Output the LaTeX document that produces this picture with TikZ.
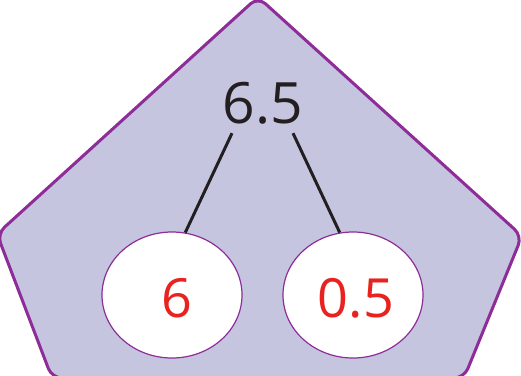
\documentclass[tikz,border=0pt]{standalone}
\usepackage{fontspec}
\setmainfont{Open Sans}
\usetikzlibrary{shapes.geometric}

\definecolor{lavender}{HTML}{C5C5E0}
\definecolor{plum}{HTML}{8E2C98}
\definecolor{numred}{HTML}{E8231F}
\definecolor{ink}{HTML}{231F20}

\begin{document}
\begin{tikzpicture}[x=1pt, y=-1pt,
    part/.style={draw=plum, line width=1.2pt, fill=white, ellipse, minimum width=140pt, minimum height=126pt, inner sep=0pt, text=numred, font=\fontsize{54}{60}\selectfont},
    whole/.style={minimum height=60pt, inner sep=0pt, text=ink, font=\fontsize{57}{62}\selectfont},
    bond/.style={draw=ink, line width=3pt}]
  \useasboundingbox (0,0) rectangle (521,375);
  % pentagon
  \draw[draw=plum, fill=lavender, line width=3pt, rounded corners=10pt, line join=round]
    (258,-3) -- (522,236) -- (464,378) -- (52,378) -- (-3,234) -- cycle;
  \node[whole] (total) at (263,103) {6.5};
  \node[part] (ones) at (172,295) {\hspace*{10pt}\rule{0pt}{46pt}6};
  \node[part] (tenths) at (353,295) {\hspace*{6pt}\rule{0pt}{46pt}0.5};
  \draw[bond] (total.south) ++(-31,0) -- (ones.78);
  \draw[bond] (total.south) ++(30,0) -- (tenths.102);
\end{tikzpicture}
\end{document}
